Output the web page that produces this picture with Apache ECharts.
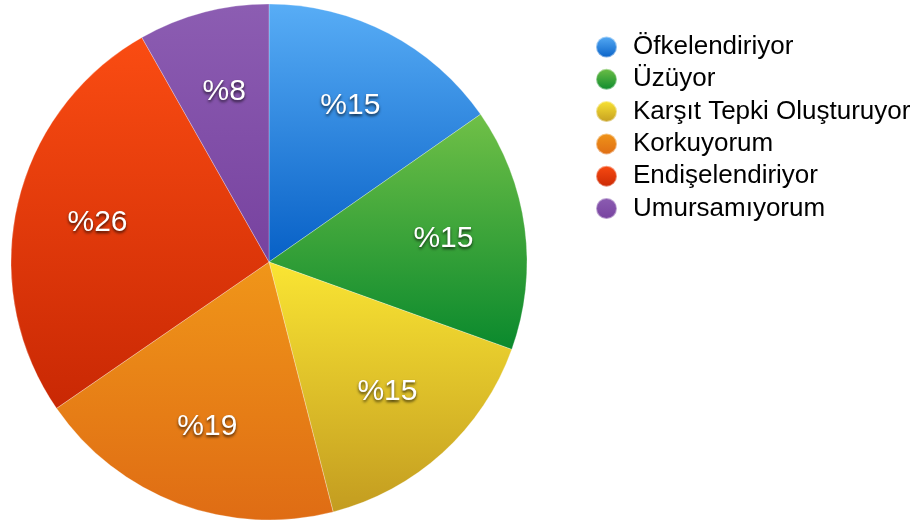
<!DOCTYPE html>
<html>
<head>
<meta charset="utf-8">
<script src="https://cdn.jsdelivr.net/npm/echarts@6/dist/echarts.min.js"></script>
<style>
  html, body { margin: 0; padding: 0; background: #fff; }
  #main { width: 923px; height: 522px; }
</style>
</head>
<body>
<div id="main"></div>
<script>
var names = ['Öfkelendiriyor', 'Üzüyor', 'Karşıt Tepki Oluşturuyor', 'Korkuyorum', 'Endişelendiriyor', 'Umursamıyorum'];
var values = [15.3, 15.2, 15.5, 19.4, 26.4, 8.2];
var shown = [15, 15, 15, 19, 26, 8];
var topColors = ['#58adf6', '#70c047', '#fae533', '#f09619', '#fa4c12', '#8c5db2'];
var bottomColors = ['#0760c6', '#0a892d', '#c39c20', '#df6c14', '#c92804', '#77429f'];

var dom = document.getElementById('main');
var myChart = echarts.init(dom);

function grad(i) {
    return new echarts.graphic.LinearGradient(0, 0, 0, 1, [
        {offset: 0, color: topColors[i]},
        {offset: 1, color: bottomColors[i]}
    ]);
}

var pieData = names.map(function (n, i) {
    return {name: n, value: values[i], itemStyle: {color: grad(i)}};
});
var labelData = names.map(function (n, i) {
    return {name: n, value: values[i], label: {formatter: '%' + shown[i]}};
});

var option = {
    animation: false,
    legend: {
        orient: 'vertical',
        left: 590,
        top: 29,
        icon: 'circle',
        itemWidth: 21,
        itemHeight: 21,
        itemGap: 6.3,
        data: names,
        textStyle: {
            fontFamily: 'Liberation Sans',
            fontSize: 26,
            lineHeight: 21,
            color: '#000',
            padding: [0, 0, 0, 11]
        }
    },
    series: [
        {
            type: 'pie',
            center: [269, 262],
            radius: [0, 258],
            startAngle: 90,
            silent: true,
            label: {show: false},
            labelLine: {show: false},
            itemStyle: {borderColor: 'rgba(255,255,255,0.45)', borderWidth: 0.6},
            data: pieData
        },
        {
            type: 'pie',
            center: [269, 262],
            radius: [88, 258],
            startAngle: 90,
            silent: true,
            z: 5,
            legendHoverLink: false,
            itemStyle: {color: 'transparent'},
            labelLine: {show: false},
            label: {
                show: true,
                position: 'inside',
                color: '#fff',
                fontFamily: 'Liberation Sans',
                fontSize: 30,
                textShadowColor: 'rgba(0,0,0,0.7)',
                textShadowBlur: 3,
                textShadowOffsetY: 2
            },
            data: labelData
        }
    ]
};

myChart.setOption(option);
</script>
</body>
</html>
